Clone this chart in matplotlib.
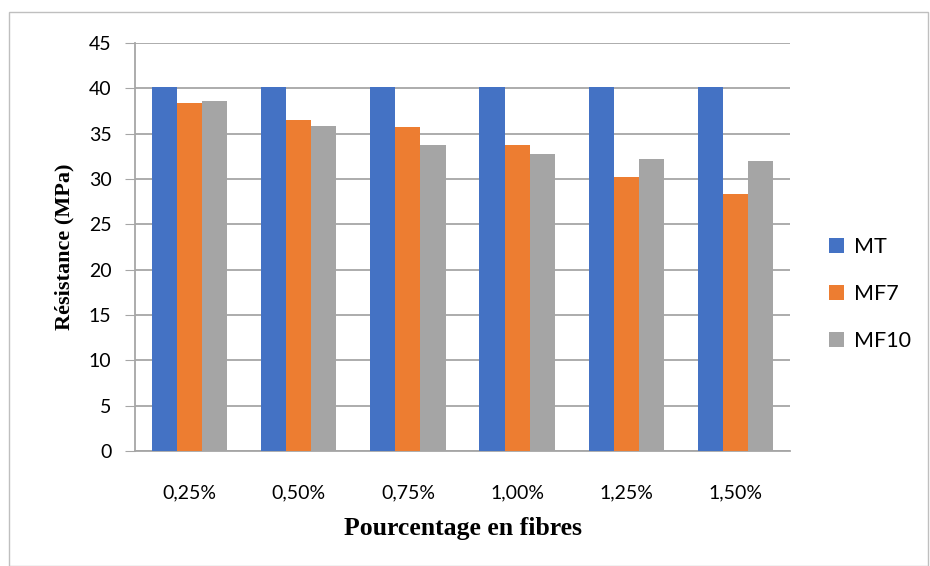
import numpy as np
import matplotlib.pyplot as plt
from matplotlib.patches import Rectangle

# data
categories = ["0,25%", "0,50%", "0,75%", "1,00%", "1,25%", "1,50%"]
mt = [40.2, 40.2, 40.2, 40.2, 40.2, 40.2]
mf7 = [38.4, 36.5, 35.7, 33.8, 30.2, 28.4]
mf10 = [38.6, 35.9, 33.7, 32.8, 32.2, 32.0]
series_names = ["MT", "MF7", "MF10"]
colors = ["#4472C4", "#ED7D31", "#A5A5A5"]

fig = plt.figure(figsize=(9.3, 5.66), dpi=100)
ax = fig.add_axes([135 / 930, 1 - 451 / 566, 655 / 930, 408 / 566])

x = np.arange(len(categories))
w = 0.23
for i, (vals, name, c) in enumerate(zip([mt, mf7, mf10], series_names, colors)):
    ax.bar(x + (i - 1) * w, vals, width=w, color=c, label=name, zorder=3)

ax.set_xlim(-0.5, len(categories) - 0.5)
ax.set_ylim(0, 45)
ax.set_yticks(range(0, 46, 5))
ax.set_xticks(x)
ax.set_xticklabels(categories)

tick_font = "Lato"
for lab in ax.get_xticklabels() + ax.get_yticklabels():
    lab.set_fontfamily(tick_font)
    lab.set_fontsize(14)

ax.grid(axis="y", color="#a6a6a6", linewidth=1.3, zorder=0)
for s in ["top", "right"]:
    ax.spines[s].set_visible(False)
ax.spines["left"].set_color("#a6a6a6")
ax.spines["left"].set_linewidth(1.3)
ax.spines["bottom"].set_color("#a6a6a6")
ax.spines["bottom"].set_linewidth(1.3)
ax.tick_params(axis="y", length=7, color="#a6a6a6", pad=10)
ax.tick_params(axis="x", length=0, pad=24)

ax.set_xlabel("Pourcentage en fibres", fontfamily="Liberation Serif",
              fontweight="bold", fontsize=18.5, labelpad=11)
ax.set_ylabel("Résistance (MPa)", fontfamily="Liberation Serif",
              fontweight="bold", fontsize=16, labelpad=10)

leg = ax.legend(loc="center left", bbox_to_anchor=(1.03, 0.385), frameon=False,
                prop={"family": tick_font, "size": 15.5},
                handlelength=0.7, handleheight=0.7, labelspacing=1.25,
                handletextpad=0.45)

# outer chart border
fig.patches.append(Rectangle((9 / 930, 0), 1 - 9 / 930 - 2 / 930, 1 - 12 / 566,
                             transform=fig.transFigure, fill=False,
                             edgecolor="#bfbfbf", linewidth=1.0))

fig.savefig("out.png", dpi=100)
